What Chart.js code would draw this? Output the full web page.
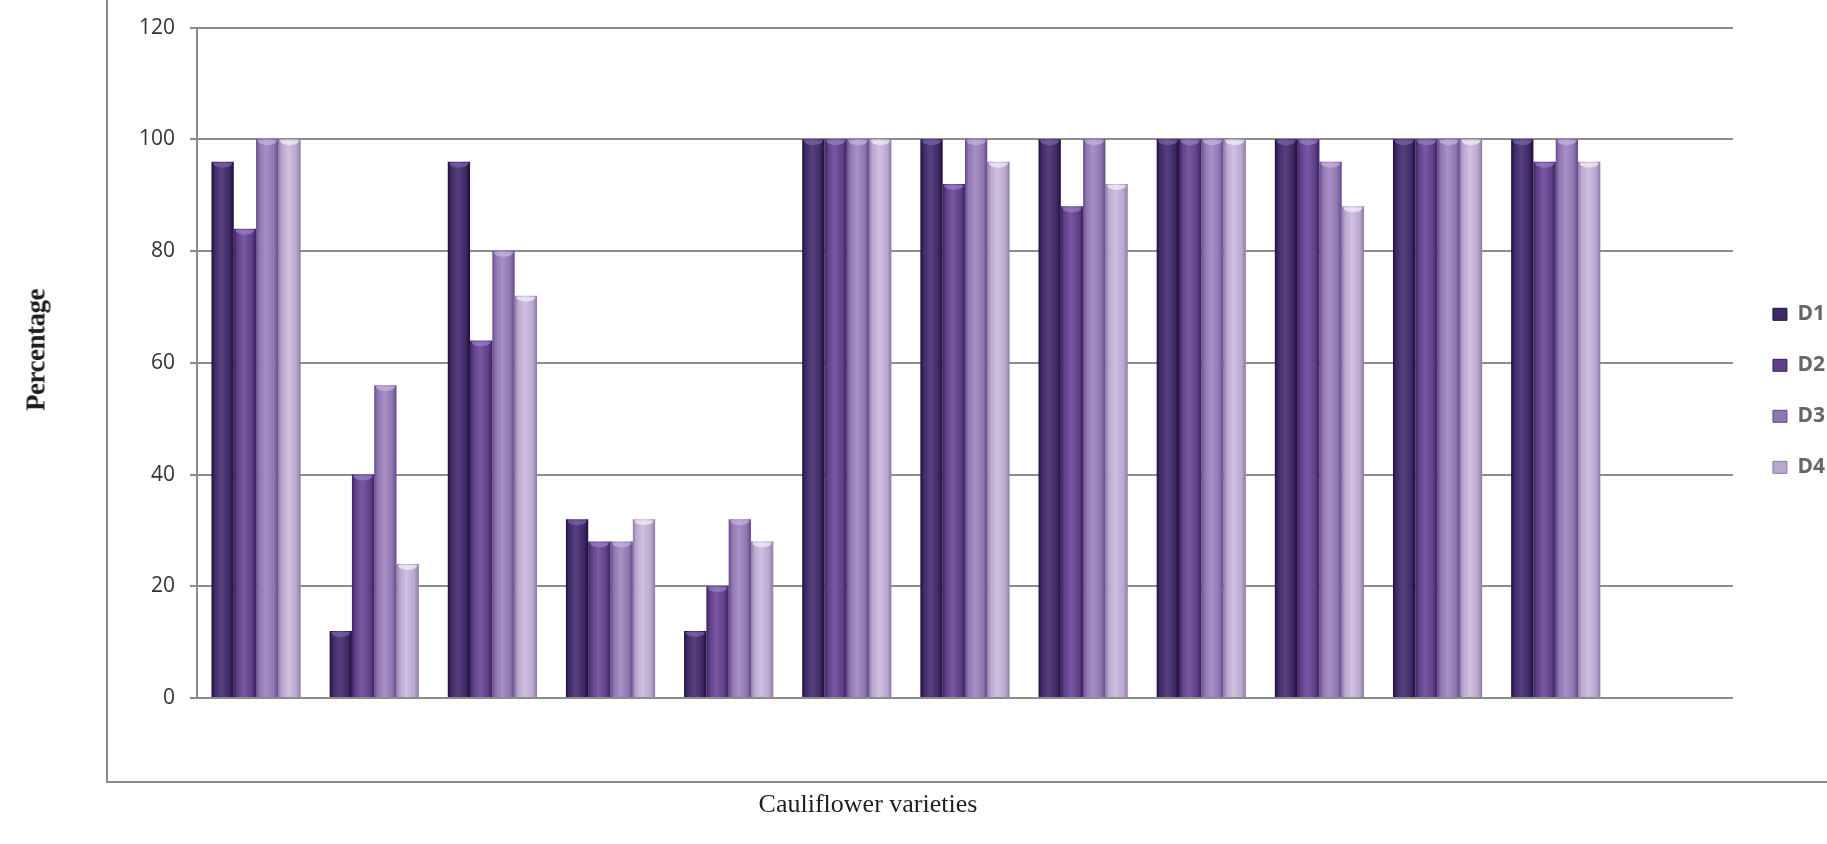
<!DOCTYPE html>
<html>
<head>
  <title>Cauliflower varieties</title>
  <script src="https://cdn.jsdelivr.net/npm/chart.js"></script>
  <style>
    html, body {
      margin: 0;
      padding: 0;
      background: #ffffff;
      overflow: hidden;
    }
    #wrap {
      position: relative;
      width: 1827px;
      height: 844px;
    }
    #frame {
      position: absolute;
      left: 106px;
      top: -10px;
      width: 1800px;
      height: 791px;
      border-left: 2px solid #8c8c8c;
      border-bottom: 2px solid #8c8c8c;
    }
    #xTitle, #yTitle {
      position: absolute;
      font-family: "Liberation Serif", "Times New Roman", serif;
      color: #1e1e1e;
      white-space: nowrap;
    }
    #xTitle {
      left: 868px;
      top: 804px;
      transform: translate(-50%, -50%);
      font-size: 26px;
    }
    #yTitle {
      left: 36px;
      top: 350px;
      transform: translate(-50%, -50%) rotate(-90deg);
      font-size: 27px;
      font-weight: bold;
      letter-spacing: -0.5px;
    }
    #chartBox {
      position: absolute;
      left: 0;
      top: 0;
      width: 1827px;
      height: 844px;
    }
  </style>
</head>
<body>
  <div id="wrap">
    <div id="frame"></div>
    <div id="chartBox"><canvas id="chart"></canvas></div>
    <div id="yTitle">Percentage</div>
    <div id="xTitle">Cauliflower varieties</div>
  </div>

  <script>
    // 13 slots on the axis, the last one is left empty in the original
    const varieties = ['V1', 'V2', 'V3', 'V4', 'V5', 'V6', 'V7', 'V8', 'V9', 'V10', 'V11', 'V12', 'V13'];
    const seriesNames = ['D1', 'D2', 'D3', 'D4'];

    const d1 = [96, 12, 96, 32, 12, 100, 100, 100, 100, 100, 100, 100, null];
    const d2 = [84, 40, 64, 28, 20, 100, 92, 88, 100, 100, 100, 96, null];
    const d3 = [100, 56, 80, 28, 32, 100, 100, 100, 100, 96, 100, 100, null];
    const d4 = [100, 24, 72, 32, 28, 100, 96, 92, 100, 88, 100, 96, null];

    const yTicks = [0, 20, 40, 60, 80, 100, 120];

    // base colour, dark edge, light middle, top cap for each series
    const seriesColors = [
      ['#402a66', '#1f0e3a', '#57407e', '#7a62a8'],
      ['#5f3f88', '#3a2160', '#7858a2', '#9a7cc6'],
      ['#8f76b0', '#63498a', '#a890c6', '#c6b2e0'],
      ['#baa7cf', '#8e7aa8', '#cfc0e0', '#f2ecf8']
    ];

    const catPct = 0.755;

    // cylinder-like shading, computed from the x scale
    function barFill(ctx) {
      const cols = seriesColors[ctx.datasetIndex];
      const chart = ctx.chart;
      const xs = chart.scales && chart.scales.x;
      if (!xs || ctx.type !== 'data') return cols[0];
      const cw = (xs.right - xs.left) / varieties.length;
      const bw = cw * catPct / seriesNames.length;
      const cx = xs.getPixelForValue(ctx.dataIndex) + (ctx.datasetIndex - 1.5) * bw;
      const g = chart.ctx.createLinearGradient(cx - bw / 2, 0, cx + bw / 2, 0);
      g.addColorStop(0, cols[1]);
      g.addColorStop(0.15, cols[0]);
      g.addColorStop(0.45, cols[2]);
      g.addColorStop(0.8, cols[0]);
      g.addColorStop(1, cols[1]);
      return g;
    }

    // light elliptical top on each bar
    const capPlugin = {
      id: 'caps',
      afterDatasetsDraw(chart) {
        const c = chart.ctx;
        chart.data.datasets.forEach((ds, i) => {
          const meta = chart.getDatasetMeta(i);
          meta.data.forEach((bar, j) => {
            if (ds.data[j] == null) return;
            const w = bar.width;
            c.save();
            c.beginPath();
            c.ellipse(bar.x, bar.y + 1, w / 2 - 1.5, 5, 0, 0, Math.PI);
            c.fillStyle = seriesColors[i][3];
            c.globalAlpha = 0.75;
            c.fill();
            c.restore();
          });
        });
      }
    };

    const allData = [d1, d2, d3, d4];
    const datasets = seriesNames.map((name, i) => ({
      label: name,
      data: allData[i],
      backgroundColor: barFill,
      borderWidth: 0,
      categoryPercentage: catPct,
      barPercentage: 1.0
    }));

    const gridColor = '#8c8c8c';

    new Chart(document.getElementById('chart'), {
      type: 'bar',
      data: {
        labels: varieties,
        datasets: datasets
      },
      plugins: [capPlugin],
      options: {
        responsive: true,
        maintainAspectRatio: false,
        animation: false,
        layout: {
          padding: { top: 23, left: 0, right: -8, bottom: 0 }
        },
        plugins: {
          tooltip: { enabled: false },
          legend: {
            position: 'right',
            fullSize: false,
            align: 'center',
            title: {
              display: true,
              text: ' ',
              font: { size: 10 },
              padding: { top: 44, bottom: 0 }
            },
            labels: {
              boxWidth: 14,
              boxHeight: 12,
              padding: 30,
              color: '#2a2a2a',
              font: { family: '"Open Sans", "DejaVu Sans", sans-serif', size: 21, weight: 'bold' },
              generateLabels: (chart) => seriesNames.map((name, i) => ({
                text: name,
                fillStyle: seriesColors[i][0],
                strokeStyle: seriesColors[i][1],
                lineWidth: 1,
                datasetIndex: i,
                hidden: false
              }))
            }
          }
        },
        scales: {
          x: {
            grid: { display: false },
            border: { display: true, color: gridColor, width: 2 },
            ticks: { display: false },
            afterFit: (scale) => { scale.height = 146; }
          },
          y: {
            min: 0,
            max: 120,
            afterBuildTicks: (scale) => { scale.ticks = yTicks.map(v => ({ value: v })); },
            grid: { color: gridColor, lineWidth: 2, tickLength: 7, drawTicks: true },
            border: { display: true, color: gridColor, width: 2 },
            ticks: {
              padding: 15,
              color: '#333333',
              font: { family: '"Open Sans", "DejaVu Sans", sans-serif', size: 21 }
            },
            afterFit: (scale) => { scale.width = 197; }
          },
          // empty spacer between the plot and the legend
          gap: {
            type: 'linear',
            position: 'right',
            display: true,
            grid: { display: false },
            border: { display: false },
            ticks: { display: false },
            afterFit: (scale) => { scale.width = 10; }
          }
        }
      }
    });
  </script>
</body>
</html>
